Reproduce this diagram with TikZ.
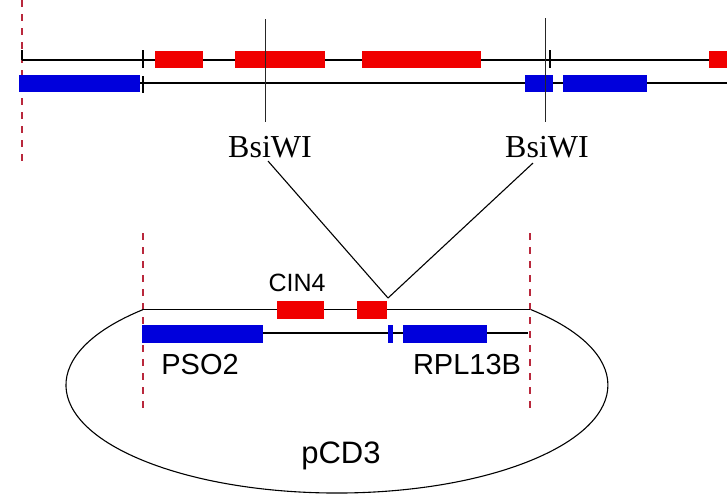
\documentclass[tikz,border=0pt]{standalone}
\usepackage{fontspec}
\setmainfont{Liberation Serif}
\setsansfont{Liberation Sans}
\definecolor{exonred}{RGB}{240,0,0}
\definecolor{exonblue}{RGB}{0,0,220}
\definecolor{guidered}{RGB}{185,40,60}
\tikzset{
  strand/.style={draw=black, line width=1.3pt},
  cutline/.style={draw=black!85, line width=1pt},
  tickmark/.style={draw=black, line width=1.2pt},
  guide/.style={draw=guidered, line width=1.2pt, dash pattern=on 7pt off 7pt},
  redexon/.style={fill=exonred},
  blueexon/.style={fill=exonblue},
  sitelabel/.style={inner sep=1pt, font=\fontsize{32}{33}\selectfont},
  genelabel/.style={inner sep=1pt, font=\sffamily\fontsize{29}{30}\selectfont},
  link/.style={draw=black, line width=1.1pt}
}
\begin{document}
\begin{tikzpicture}[x=1pt,y=-1pt]
\path[use as bounding box] (0,0) rectangle (727,496);

% ---- chromosomal region ----
\draw[guide] (22,0) -- (22,162);
\draw[strand] (22,60) -- (727,60);
\draw[strand] (19,83) -- (727,83);
\draw[tickmark] (22,50) -- (22,60);
% exons on the upper strand
\fill[redexon] (155,51) rectangle (203,68);
\fill[redexon] (235,51) rectangle (325,68);
\fill[redexon] (362,51) rectangle (481,68);
\fill[redexon] (709,51) rectangle (727,68);
% exons on the lower strand
\fill[blueexon] (19,75) rectangle (140,92);
\fill[blueexon] (525,75) rectangle (553,92);
\fill[blueexon] (563,75) rectangle (647,92);
% small boundary ticks
\draw[tickmark] (143,50) -- (143,68);
\draw[tickmark] (143,76) -- (143,93);
\draw[tickmark] (550,50) -- (550,68);
% restriction sites
\draw[cutline] (265.5,19) -- (265.5,122);
\draw[cutline] (545.5,18) -- (545.5,122);
\node[sitelabel] (bsi1) at (270,147) {BsiWI};
\node[sitelabel] (bsi2) at (547,147) {BsiWI};

% ---- plasmid insert ----
\coordinate (join) at (388,298);
\draw[link] ([xshift=-2pt,yshift=-2pt]bsi1.south) -- (join);
\draw[link] ([xshift=-14pt,yshift=-4pt]bsi2.south) -- (join);

\draw[guide] (143,233) -- (143,408);
\draw[guide] (530,233) -- (530,408);
\coordinate (pl) at (143,309.6);
\coordinate (pr) at (530,309.6);
\draw[strand] (pl) -- (pr);
\draw[strand] (143,333) -- (528,333);
\fill[redexon] (277,301) rectangle (324,319);
\fill[redexon] (357,301) rectangle (387,319);
\fill[blueexon] (142,325) rectangle (263,343);
\fill[blueexon] (388,325) rectangle (393,343);
\fill[blueexon] (403,325) rectangle (487,343);

% plasmid backbone
\draw[link] (pl) arc[start angle=135.7, end angle=404.3, x radius=271pt, y radius=108pt];

\node[genelabel, font=\sffamily\fontsize{25}{26}\selectfont] (cin4) at (297,283) {CIN4};
\node[genelabel] (pso2) at (200,365) {PSO2};
\node[genelabel] (rpl13b) at (467,365) {RPL13B};
\node[genelabel, font=\sffamily\fontsize{31}{32}\selectfont] (pcd3) at (341,456) {pCD3};
\end{tikzpicture}
\end{document}
